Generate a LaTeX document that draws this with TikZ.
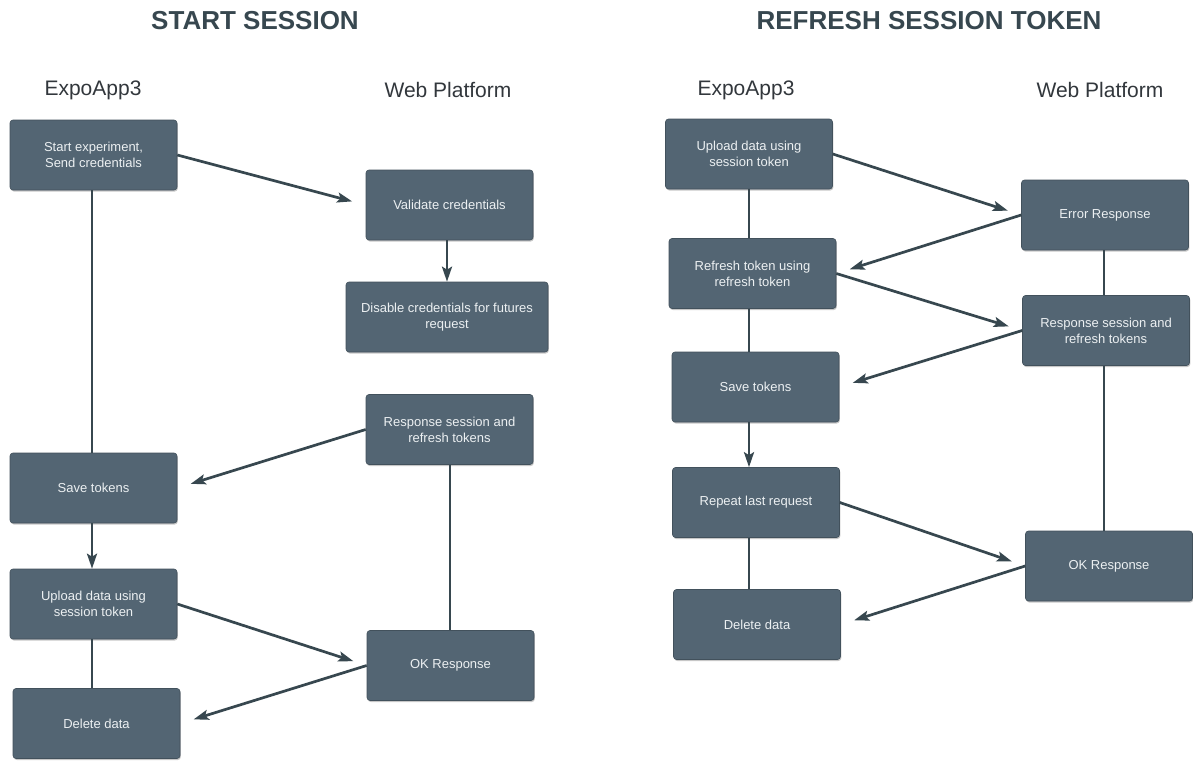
\documentclass[tikz,border=0pt]{standalone}
\usepackage{fontspec}
\setmainfont{Liberation Sans}
\usetikzlibrary{arrows.meta,shadows,calc}
\definecolor{boxfill}{RGB}{83,101,115}
\definecolor{linecol}{RGB}{55,71,79}
\definecolor{titlecol}{RGB}{55,71,79}
\definecolor{headcol}{RGB}{50,55,60}
\definecolor{boxtext}{RGB}{236,240,242}
\tikzset{
  stepbox/.style={draw=boxfill!80!black, line width=0.6pt, fill=boxfill, rounded corners=3pt,
    minimum width=167pt, minimum height=70pt, inner sep=0pt, align=center,
    text=boxtext, font=\fontsize{13}{16}\selectfont,
    drop shadow={shadow xshift=0.8pt, shadow yshift=-1.5pt, fill=black, opacity=0.22}},
  conn/.style={draw=linecol, line width=2.7pt},
  arr/.style={conn, -{Stealth[length=15pt,width=10pt,inset=3pt]}},
  darr/.style={arr, shorten >=14pt},
  titletext/.style={font=\fontsize{26}{30}\selectfont\bfseries, text=titlecol},
  headtext/.style={font=\fontsize{21}{25}\selectfont, text=headcol},
}
\begin{document}
\begin{tikzpicture}[x=1pt,y=-1pt]
\useasboundingbox[fill=white] (0,0) rectangle (1193,760);

% titles
\node[titletext] (t1) at (255,21) {START SESSION};
\node[titletext] (t2) at (929,21) {REFRESH SESSION TOKEN};
\node[headtext] (h1) at (93,90) {ExpoApp3};
\node[headtext] (h2) at (448,90) {Web Platform};
\node[headtext] (h3) at (746,90) {ExpoApp3};
\node[headtext] (h4) at (1100,90) {Web Platform};

% left panel
\node[stepbox] (A) at (93.5,155) {Start experiment,\\Send credentials};
\node[stepbox] (B) at (449.5,205) {Validate credentials};
\node[stepbox, minimum width=202pt] (C) at (447,317) {Disable credentials for futures\\request};
\node[stepbox] (D) at (449.5,429.5) {Response session and\\refresh tokens};
\node[stepbox] (E) at (93.5,488) {Save tokens};
\node[stepbox] (F) at (93.5,604) {Upload data using\\session token};
\node[stepbox] (G) at (450.5,665.5) {OK Response};
\node[stepbox] (H) at (96.5,723.5) {Delete data};

\draw[darr] (A.east) -- (B.west);
\draw[conn] (A.south -| 92,0) -- (E.north -| 92,0);
\draw[arr] (B.south -| 447,0) -- (C.north -| 447,0);
\draw[darr] (D.west) -- (E.east);
\draw[conn] (D.south -| 450,0) -- (G.north -| 450,0);
\draw[arr] (E.south -| 92,0) -- (F.north -| 92,0);
\draw[darr] (F.east) -- (G.west);
\draw[conn] (F.south -| 92,0) -- (H.north -| 92,0);
\draw[darr] (G.west) -- (H.east);

% right panel
\node[stepbox] (R1) at (749,154) {Upload data using\\session token};
\node[stepbox] (R2) at (1105,215) {Error Response};
\node[stepbox] (R3) at (752.5,273.5) {Refresh token using\\refresh token};
\node[stepbox] (R4) at (1106,330.5) {Response session and\\refresh tokens};
\node[stepbox] (R5) at (755.5,387) {Save tokens};
\node[stepbox] (R6) at (756,502.5) {Repeat last request};
\node[stepbox] (R7) at (1109,566) {OK Response};
\node[stepbox] (R8) at (757,624.5) {Delete data};

\draw[darr] (R1.east) -- (R2.west);
\draw[conn] (R1.south -| 749,0) -- (R3.north -| 749,0);
\draw[darr] (R2.west) -- (R3.east);
\draw[conn] (R2.south -| 1104,0) -- (R4.north -| 1104,0);
\draw[darr] (R3.east) -- (R4.west);
\draw[conn] (R3.south -| 749,0) -- (R5.north -| 749,0);
\draw[darr] (R4.west) -- (R5.east);
\draw[conn] (R4.south -| 1104,0) -- (R7.north -| 1104,0);
\draw[arr] (R5.south -| 749,0) -- (R6.north -| 749,0);
\draw[darr] (R6.east) -- (R7.west);
\draw[conn] (R6.south -| 749,0) -- (R8.north -| 749,0);
\draw[darr] (R7.west) -- (R8.east);
\end{tikzpicture}
\end{document}
